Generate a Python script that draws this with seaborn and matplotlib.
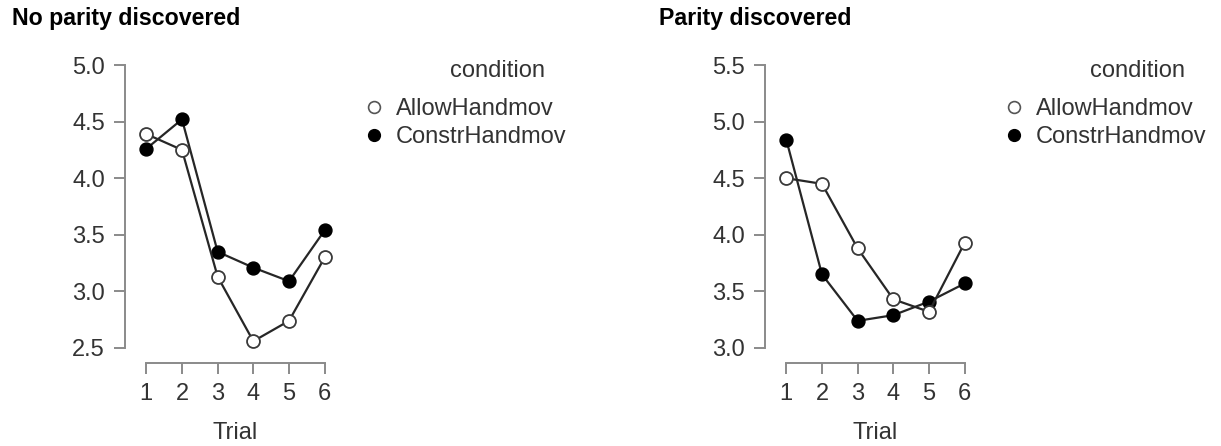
import numpy as np
import pandas as pd
import matplotlib
matplotlib.use("Agg")
import matplotlib.pyplot as plt
from matplotlib.lines import Line2D
import seaborn as sns

# data
trials = [1, 2, 3, 4, 5, 6]
conditions = ["AllowHandmov", "ConstrHandmov"]

no_parity_allow = [4.39, 4.25, 3.13, 2.56, 2.74, 3.30]
no_parity_constr = [4.26, 4.52, 3.35, 3.21, 3.09, 3.54]

parity_allow = [4.50, 4.45, 3.88, 3.43, 3.32, 3.93]
parity_constr = [4.84, 3.65, 3.24, 3.29, 3.41, 3.57]

panel_titles = ["No parity discovered", "Parity discovered"]
y_ticks_left = [2.5, 3.0, 3.5, 4.0, 4.5, 5.0]
y_ticks_right = [3.0, 3.5, 4.0, 4.5, 5.0, 5.5]

sns.set_theme(style="white")
plt.rcParams['font.family'] = ['Liberation Sans', 'DejaVu Sans']

TEXT = "#333333"
SPINE = "#8a8a8a"
LINE = "#262626"
W, H = 1221, 446


def make_df(allow, constr):
    return pd.DataFrame({
        "Trial": trials * 2,
        "value": allow + constr,
        "condition": [conditions[0]] * 6 + [conditions[1]] * 6,
    })


def draw_panel(ax, df, yticks):
    sns.lineplot(data=df, x="Trial", y="value", hue="condition",
                 palette={c: LINE for c in conditions}, marker="o",
                 markersize=9.3, linewidth=1.6, legend=False, ax=ax)
    for line, cond in zip(ax.lines, conditions):
        line.set_clip_on(False)
        if cond == "AllowHandmov":
            line.set_markerfacecolor("white")
            line.set_markeredgecolor("#3a3a3a")
            line.set_markeredgewidth(1.3)
            line.set_zorder(3)
        else:
            line.set_markerfacecolor("black")
            line.set_markeredgecolor("black")
            line.set_markeredgewidth(1.0)
            line.set_zorder(2)

    ax.set_xlim(0.403, 6.597)
    ax.set_ylim(yticks[0], yticks[-1])
    ax.set_xticks(trials)
    ax.set_yticks(yticks)
    ax.set_yticklabels([f"{t:.1f}" for t in yticks])
    sns.despine(ax=ax)
    ax.spines["bottom"].set_position(("outward", 10.8))
    ax.spines["bottom"].set_bounds(1, 6)
    for s in ["left", "bottom"]:
        ax.spines[s].set_color(SPINE)
        ax.spines[s].set_linewidth(1.4)
    ax.tick_params(axis="both", colors=SPINE, width=1.4, length=8,
                   labelsize=17, labelcolor=TEXT, left=True, bottom=True)
    ax.tick_params(axis="y", pad=6.5)
    ax.tick_params(axis="x", pad=6.5)
    ax.set_xlabel("Trial", fontsize=17, color=TEXT, labelpad=12)
    ax.set_ylabel("")
    ax.grid(False)


fig = plt.figure(figsize=(W / 100, H / 100), dpi=100)

panels = [
    (125, make_df(no_parity_allow, no_parity_constr), y_ticks_left, 12),
    (765, make_df(parity_allow, parity_constr), y_ticks_right, 659),
]

for (x0, df, yticks, title_x), title in zip(panels, panel_titles):
    ax = fig.add_axes([x0 / W, (H - 348) / H, 221 / W, 283 / H])
    draw_panel(ax, df, yticks)

    fig.text(title_x / W, 1 - 18 / H, title, fontsize=16.7,
             fontweight="bold", color="black", va="center", ha="left")

    # legend
    handles = [
        Line2D([], [], linestyle="none", marker="o", markersize=8.5,
               markerfacecolor="white", markeredgecolor="#555555",
               markeredgewidth=1.2),
        Line2D([], [], linestyle="none", marker="o", markersize=8.5,
               markerfacecolor="black", markeredgecolor="black"),
    ]
    lx = x0 + 243
    ax.legend(handles, conditions, loc="upper left",
              bbox_to_anchor=(lx / W, 1 - 98 / H), bbox_transform=fig.transFigure,
              frameon=False, fontsize=17, handlelength=0.55, handletextpad=0.62,
              labelspacing=0.25, borderpad=0, borderaxespad=0,
              labelcolor=TEXT)
    fig.text((x0 + 325) / W, 1 - 71 / H, "condition", fontsize=17,
             color=TEXT, va="center", ha="left")

fig.savefig("out.png", dpi=100)
